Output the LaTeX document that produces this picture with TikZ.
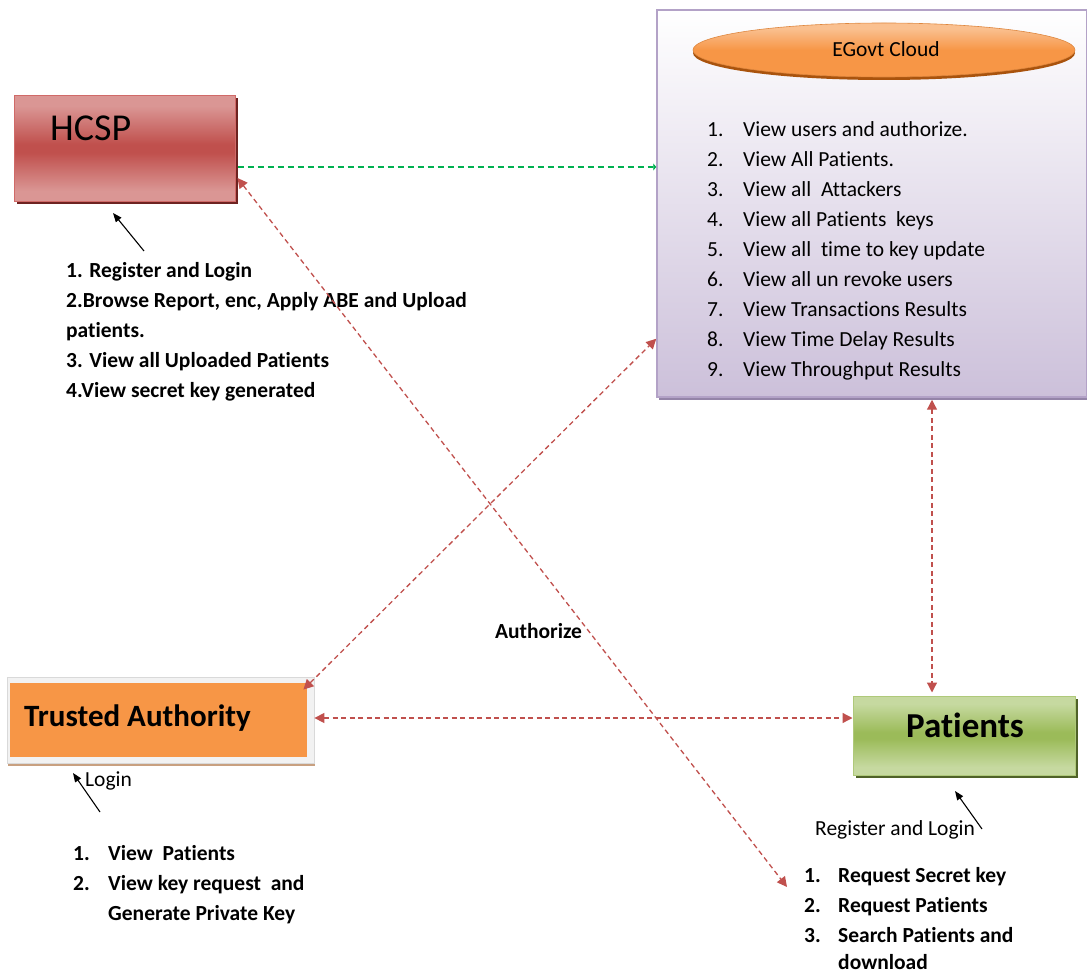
\documentclass[tikz,border=0pt]{standalone}
\usepackage{fontspec}
\setmainfont{Carlito}[Ligatures=NoCommon]
\usetikzlibrary{arrows.meta,shadows,shapes.geometric}
\definecolor{redA}{HTML}{C0504D}
\definecolor{hcspTop}{HTML}{DA9694}
\definecolor{hcspMid}{HTML}{C0504D}
\definecolor{hcspLine}{HTML}{D06A68}
\definecolor{hcspShadow}{HTML}{6E2321}
\definecolor{cloudLine}{HTML}{B3A2C7}
\definecolor{cloudBot}{HTML}{CCC0DA}
\definecolor{cloudShadow}{HTML}{9484A8}
\definecolor{orangeA}{HTML}{F79646}
\definecolor{orangeTop}{HTML}{FAC090}
\definecolor{orangeShadow}{HTML}{A9530D}
\definecolor{taShadow}{HTML}{C8A080}
\definecolor{greenTop}{HTML}{C6D9A0}
\definecolor{greenMid}{HTML}{9BBB59}
\definecolor{greenShadow}{HTML}{4F6228}
\definecolor{greenLine}{HTML}{00B050}
\pgfdeclareverticalshading{hcspshade}{100bp}{color(0bp)=(hcspTop); color(30bp)=(hcspTop); color(48bp)=(hcspMid); color(52bp)=(hcspMid); color(70bp)=(hcspTop); color(100bp)=(hcspTop)}
\pgfdeclareverticalshading{patshade}{100bp}{color(0bp)=(greenTop); color(30bp)=(greenTop); color(48bp)=(greenMid); color(52bp)=(greenMid); color(70bp)=(greenTop); color(100bp)=(greenTop)}
\pgfdeclareverticalshading{ovalshade}{100bp}{color(0bp)=(orangeA); color(50bp)=(orangeA); color(70bp)=(orangeTop); color(100bp)=(orangeTop)}
\begin{document}
\begin{tikzpicture}[x=1pt,y=-1pt,
  txt/.style={anchor=base west,inner sep=0pt,font=\fontsize{21.5}{24}\selectfont},
  btxt/.style={anchor=base west,inner sep=0pt,font=\fontsize{21.5}{24}\selectfont\bfseries},
  hcspbox/.style={draw=hcspLine,line width=1pt,shading=hcspshade,
     drop shadow={shadow xshift=3pt,shadow yshift=-3pt,fill=hcspShadow,opacity=1}},
  cloudbox/.style={draw=cloudLine,line width=1.5pt,shading=axis,top color=white,bottom color=cloudBot,
     drop shadow={shadow xshift=2pt,shadow yshift=-3pt,fill=cloudShadow,opacity=1}},
  ovalbox/.style={ellipse,draw=orangeA!90!black,line width=0.6pt,shading=ovalshade,
     drop shadow={shadow xshift=0pt,shadow yshift=-3pt,fill=orangeShadow,opacity=1}},
  taouter/.style={draw=gray!30,fill=gray!10,line width=0.8pt,
     drop shadow={shadow xshift=1pt,shadow yshift=-3pt,fill=taShadow,opacity=1}},
  tainner/.style={fill=orangeA,draw=none},
  patbox/.style={draw=greenMid!80!white,line width=1pt,shading=patshade,
     drop shadow={shadow xshift=3pt,shadow yshift=-3pt,fill=greenShadow,opacity=1}},
  redlink/.style={draw=redA,line width=1.3pt,dash pattern=on 5pt off 3.5pt,
     {Triangle[length=10pt,width=10pt]}-{Triangle[length=10pt,width=10pt]}},
  greenlink/.style={draw=greenLine,line width=1.6pt,dash pattern=on 6pt off 4pt,-{Triangle[length=3pt,width=7pt]}},
  blackarrow/.style={draw=black,line width=1.1pt,-{Triangle[length=9pt,width=7pt]}}
]
\useasboundingbox (0,0) rectangle (1087,973);

% boxes
\node[hcspbox,minimum width=221pt,minimum height=106pt] (hcsp) at (124.5,148.5) {};
\node[anchor=base west,inner sep=0pt,font=\fontsize{38}{40}\selectfont] (hcsplabel) at (50,141) {HCSP};

\node[cloudbox,minimum width=430pt,minimum height=387pt] (cloud) at (872,203.5) {};
\node[ovalbox,minimum width=382pt,minimum height=54pt] (oval) at (884,50) {};
\node[anchor=base,inner sep=0pt,font=\fontsize{21.5}{24}\selectfont] (ovallabel) at (886,57) {EGovt Cloud};

\node[taouter,minimum width=307pt,minimum height=86pt] (ta) at (160.5,720) {};
\node[tainner,minimum width=297pt,minimum height=74pt] (tain) at (158.5,720) {};
\node[anchor=base west,inner sep=0pt,font=\fontsize{31}{34}\selectfont\bfseries] (talabel) at (24,726) {Trusted Authority};

\node[patbox,minimum width=222pt,minimum height=79pt] (pat) at (964,735.5) {};
\node[anchor=base,inner sep=0pt,font=\fontsize{35}{38}\selectfont\bfseries] (patlabel) at (965,737) {Patients};

% cloud list
\foreach \i/\t [count=\k from 0] in {1/View users and authorize.,2/View All Patients.,3/View all~ Attackers,4/View all Patients~ keys,5/View all~ time to key update,6/View all un revoke users,7/View Transactions Results,8/View Time Delay Results,9/View Throughput Results}{
  \node[txt] (cn\i) at (707,137+30*\k) {\i.};
  \node[txt] (ct\i) at (743,137+30*\k) {\t};
}

% HCSP list
\node[btxt] (h1) at (66,278) {1. Register and Login};
\node[btxt] (h2) at (66,308) {2.Browse Report, enc, Apply ABE and Upload};
\node[btxt] (h3) at (66,338) {patients.};
\node[btxt] (h4) at (66,368) {3. View all Uploaded Patients};
\node[btxt] (h5) at (66,398) {4.View secret key generated};

% TA
\node[txt] (login) at (85,786) {Login};
\node[btxt] (tn1) at (73,860) {1.};
\node[btxt] (tt1) at (108,860) {View~ Patients};
\node[btxt] (tn2) at (73,890) {2.};
\node[btxt] (tt2) at (108,890) {View key request~ and};
\node[btxt] (tt3) at (108,920) {Generate Private Key};

% Patients
\node[txt] (reglogin) at (815,835) {Register and Login};
\node[btxt] (pn1) at (804,882) {1.};
\node[btxt] (pt1) at (838,882) {Request Secret key};
\node[btxt] (pn2) at (804,912) {2.};
\node[btxt] (pt2) at (838,912) {Request Patients};
\node[btxt] (pn3) at (804,942) {3.};
\node[btxt] (pt3) at (838,942) {Search Patients and};
\node[btxt] (pt4) at (838,969) {download};

\node[anchor=base,inner sep=0pt,font=\fontsize{21.5}{24}\selectfont\bfseries] (auth) at (538.5,638) {Authorize};

% connectors
\draw[greenlink] ([xshift=2pt,yshift=-18.5pt]hcsp.east) -- ([yshift=36.5pt]cloud.west);
\coordinate (plistend) at (787,887);
\draw[redlink] ([xshift=2pt,yshift=-29.5pt]hcsp.east) -- (plistend);
\draw[redlink] ([xshift=-11pt,yshift=-13pt]ta.north east) -- ([yshift=59pt]cloud.south west);
\draw[redlink] ([yshift=2pt]ta.east) -- ([yshift=17.5pt]pat.west);
\draw[redlink] ([xshift=60pt,yshift=-2pt]cloud.south) -- ([xshift=-32pt,yshift=3pt]pat.north);

% black annotation arrows
\coordinate (ha) at (144,251);
\coordinate (hb) at (113,213);
\draw[blackarrow] (ha) -- (hb);
\coordinate (la) at (100,812);
\coordinate (lb) at (73,773);
\draw[blackarrow] (la) -- (lb);
\coordinate (ra) at (982,829);
\coordinate (rb) at (955,791);
\draw[blackarrow] (ra) -- (rb);
\end{tikzpicture}
\end{document}
